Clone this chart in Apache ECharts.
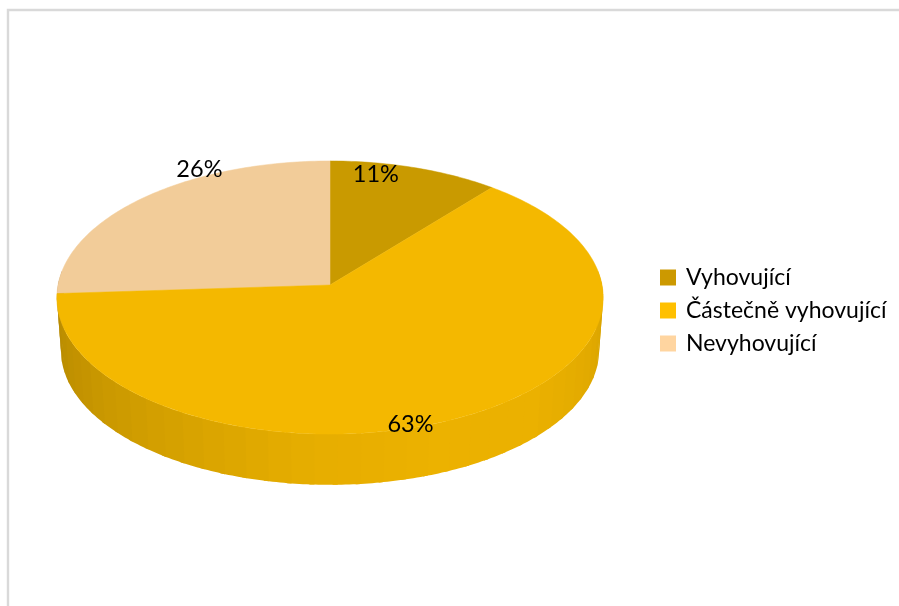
<!DOCTYPE html>
<html>
<head>
<meta charset="utf-8">
<style>html,body{margin:0;padding:0;background:#fff}#c{width:899px;height:606px}</style>
<script src="https://cdn.jsdelivr.net/npm/echarts@6/dist/echarts.min.js"></script>
</head>
<body>
<div id="c"></div>
<script>
var categories = ["Vyhovující", "Částečně vyhovující", "Nevyhovující"];
var percentValues = [11, 63, 26];
var legendColors = ["#cc9900", "#ffc000", "#ffd5a0"];
var topColors = ["#c99a00", "#f4b800", "#f2cc99"];
var labelShifts = [[-39, 7], [-54, 8], [56, -28]];

var CX = 330, CY = 285, RX = 272, RY = 135.4, PERSP = 0.0916;
var BOTTOM_CY = 338, BOTTOM_SCALE = 0.985;
var TOTAL = percentValues.reduce(function (a, b) { return a + b; }, 0);

function topPoint(deg, r) {
  var t = deg * Math.PI / 180, w = 1 + PERSP * Math.cos(t);
  return [CX + r * RX * Math.sin(t) / w, CY - r * RY * Math.cos(t) / w];
}
function bottomPoint(deg) {
  var t = deg * Math.PI / 180, w = 1 + PERSP * Math.cos(t);
  return [CX + BOTTOM_SCALE * RX * Math.sin(t) / w, BOTTOM_CY - BOTTOM_SCALE * RY * Math.cos(t) / w];
}
// light on the wall: factor by rim angle (degrees clockwise from 12 o'clock)
var shadeStops = [[85, 0.83], [110, 0.88], [135, 0.92], [160, 0.925], [185, 0.90], [215, 0.83], [245, 0.76], [272, 0.70]];
function shade(deg) {
  for (var i = 1; i < shadeStops.length; i++) {
    if (deg <= shadeStops[i][0]) {
      var a = shadeStops[i - 1], b = shadeStops[i];
      return a[1] + (b[1] - a[1]) * Math.max(0, deg - a[0]) / (b[0] - a[0]);
    }
  }
  return shadeStops[shadeStops.length - 1][1];
}
function scaled(hex, f) {
  var n = parseInt(hex.slice(1), 16);
  return "rgb(" + [(n >> 16) & 255, (n >> 8) & 255, n & 255].map(function (c) { return Math.round(c * f); }).join(",") + ")";
}
function startAngle(idx) {
  var s = 0;
  for (var i = 0; i < idx; i++) s += percentValues[i];
  return s / TOTAL * 360;
}
var FACET = 4.5, FINE = 0.75;

function makeRenderItem(idx) {
  return function (params, api) {
    var value = api.value(0);
    var a0 = startAngle(idx), a1 = a0 + value / TOTAL * 360;
    var children = [];
    // wall: only the front half of the rim is visible; facets overlap to hide seams
    var from = Math.max(a0, 84), to = Math.min(a1, 276);
    for (var d = from; d < to; d += FACET) {
      var e = Math.min(d + FACET, to), end = Math.min(e + 1, to);
      var upper = [], lower = [];
      for (var s = d; s < end; s += FINE) { upper.push(topPoint(s, 1)); lower.unshift(bottomPoint(s)); }
      upper.push(topPoint(end, 1)); lower.unshift(bottomPoint(end));
      children.push({
        type: "polygon",
        shape: { points: upper.concat(lower) },
        style: { fill: scaled(legendColors[idx], shade((d + e) / 2)) }
      });
    }
    // top face
    var pts = [[CX, CY]];
    for (var a = a0; a < a1; a += 1) pts.push(topPoint(a, 1));
    pts.push(topPoint(a1, 1));
    children.push({
      type: "polygon",
      shape: { points: pts },
      style: { fill: topColors[idx], stroke: topColors[idx], lineWidth: 0.5 }
    });
    // percentage label
    var mid = topPoint((a0 + a1) / 2, 1);
    children.push({
      type: "text",
      z2: 50,
      style: {
        x: mid[0] + labelShifts[idx][0],
        y: mid[1] + labelShifts[idx][1],
        text: value + "%",
        fill: "#000",
        font: "23.5px Lato",
        align: "center",
        verticalAlign: "middle"
      }
    });
    return { type: "group", children: children };
  };
}

var chart = echarts.init(document.getElementById("c"), null, { renderer: "canvas" });
chart.setOption({
  animation: false,
  backgroundColor: "#ffffff",
  graphic: [{
    type: "polyline",
    silent: true,
    shape: { points: [[8, 606], [8, 10], [899, 10]] },
    style: { fill: null, stroke: "#d9d9d9", lineWidth: 2.4 }
  }],
  legend: {
    orient: "vertical",
    left: 655,
    top: 261,
    icon: "rect",
    itemWidth: 16,
    itemHeight: 16,
    itemGap: 10,
    selectedMode: false,
    data: categories,
    textStyle: { fontFamily: "Lato", fontSize: 23, color: "#000", padding: [0, 0, 0, 5], height: 16, lineHeight: 16 }
  },
  series: categories.map(function (name, i) {
    return {
      type: "custom",
      name: name,
      coordinateSystem: "none",
      silent: true,
      z: 2 + (i === 1 ? 1 : 0),
      itemStyle: { color: legendColors[i] },
      renderItem: makeRenderItem(i),
      data: [[percentValues[i]]]
    };
  })
});
</script>
</body>
</html>
